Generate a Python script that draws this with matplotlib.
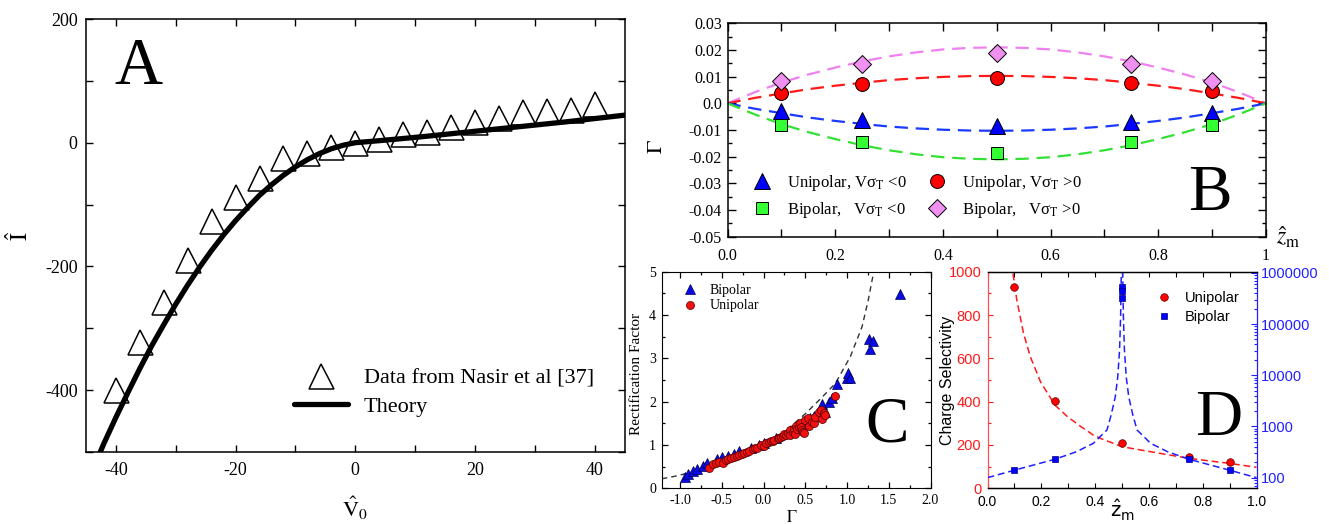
import matplotlib
matplotlib.use("Agg")
import matplotlib.pyplot as plt
from matplotlib.ticker import MultipleLocator, FuncFormatter, LogLocator, NullFormatter

plt.rcParams['font.family'] = 'Liberation Serif'
plt.rcParams['mathtext.fontset'] = 'stix'
plt.rcParams['axes.unicode_minus'] = False

W, H = 1329, 524

# ---------------- panel A: I-V data and theory ----------------
a_v0 = [-40, -36, -32, -28, -24, -20, -16, -12, -8, -4, 0, 4, 8, 12, 16, 20, 24, 28, 32, 36, 40]
a_i = [-400, -322, -257, -190, -127, -87, -57, -24, -16, -7.5, 0, 5.5, 14, 16.6, 26, 34, 40, 49, 51, 53, 62]
a_th_v = [-44, -42, -40, -38, -36, -34, -32, -30, -28, -26, -24, -22, -20, -18, -16, -14, -12,
          -10, -8, -6, -4, -2, 0, 4, 8, 12, 16, 20, 25, 30, 35, 40, 45]
a_th_i = [-531, -486, -444, -404, -365, -328, -294, -261, -230, -201, -174, -149, -126, -105, -85, -68, -52.6,
          -39, -27.4, -17.6, -9.8, -4, 0, 3.3, 6.8, 10.5, 14.5, 18.5, 23.5, 28.5, 33.5, 39, 44.5]

# ---------------- panel B: Gamma vs z_m ----------------
b_z = [0.1, 0.25, 0.5, 0.75, 0.9]
b_uni_neg = [-0.0029, -0.0063, -0.0085, -0.0069, -0.0038]
b_uni_pos = [0.0037, 0.0072, 0.0096, 0.0077, 0.0047]
b_bi_neg = [-0.0081, -0.0146, -0.0188, -0.0146, -0.0081]
b_bi_pos = [0.0084, 0.0147, 0.0190, 0.0147, 0.0084]
b_fit_z = [0, 0.05, 0.1, 0.15, 0.2, 0.25, 0.3, 0.35, 0.4, 0.45, 0.5,
           0.55, 0.6, 0.65, 0.7, 0.75, 0.8, 0.85, 0.9, 0.95, 1.0]
b_fit_pink = [0, 0.0041, 0.0078, 0.0108, 0.0134, 0.0157, 0.0176, 0.0191, 0.0202, 0.0208, 0.0210,
              0.0208, 0.0202, 0.0191, 0.0176, 0.0157, 0.0134, 0.0108, 0.0078, 0.0041, 0]
b_fit_red = [0, 0.0020, 0.0037, 0.0053, 0.0066, 0.0077, 0.0087, 0.0094, 0.0099, 0.0102, 0.0103,
             0.0102, 0.0099, 0.0094, 0.0087, 0.0077, 0.0066, 0.0053, 0.0037, 0.0020, 0]
b_fit_blue = [-v for v in b_fit_red]
b_fit_green = [-v for v in b_fit_pink]

# ---------------- panel C: rectification factor vs Gamma ----------------
c_fit_g = [-1.22, -1.08, -0.84, -0.5, -0.25, 0, 0.25, 0.5, 0.7, 0.86, 1.04, 1.18, 1.255, 1.315]
c_fit_rf = [0.22, 0.27, 0.38, 0.6, 0.78, 1.0, 1.3, 1.72, 2.1, 2.42, 3.04, 3.73, 4.35, 4.95]
c_bi_g = [-0.94, -0.90, -0.84, -0.80, -0.72, -0.68, -0.56, -0.50, -0.43, -0.35, -0.29, -0.15, -0.05, 0.01,
          0.15, 0.34, 0.50, 0.56, 0.60, 0.70, 0.74, 0.78, 0.82, 0.88, 1.00, 1.01, 1.04,
          1.26, 1.28, 1.31, 1.64]
c_bi_rf = [0.25, 0.33, 0.41, 0.44, 0.52, 0.58, 0.67, 0.72, 0.75, 0.80, 0.85, 0.92, 0.99, 1.04,
           1.15, 1.35, 1.52, 1.62, 1.68, 1.95, 1.75, 2.0, 2.08, 2.41, 2.54, 2.67, 2.54,
           3.44, 3.21, 3.41, 4.48]
c_uni_g = [-0.65, -0.60, -0.57, -0.53, -0.49, -0.45, -0.42, -0.39, -0.35, -0.32, -0.29, -0.26, -0.23,
           -0.20, -0.18, -0.13, -0.10, -0.08, -0.03, 0.0, 0.03, 0.06, 0.09, 0.11, 0.13, 0.17, 0.19,
           0.21, 0.23, 0.25, 0.27, 0.29, 0.32, 0.32, 0.35, 0.36, 0.38, 0.39, 0.40, 0.42, 0.44,
           0.45, 0.46, 0.47, 0.48, 0.50, 0.53, 0.55, 0.58, 0.60, 0.62, 0.66, 0.69, 0.70, 0.72,
           0.74, 0.86]
c_uni_rf = [0.46, 0.55, 0.58, 0.60, 0.59, 0.65, 0.68, 0.69, 0.73, 0.74, 0.77, 0.79, 0.81,
            0.83, 0.85, 0.90, 0.92, 0.94, 1.0, 0.98, 1.04, 1.06, 1.10, 1.10, 1.12, 1.15, 1.17,
            1.19, 1.21, 1.25, 1.24, 1.28, 1.35, 1.23, 1.30, 1.38, 1.25, 1.44, 1.37, 1.42, 1.50,
            1.42, 1.35, 1.30, 1.28, 1.58, 1.62, 1.43, 1.54, 1.50, 1.65, 1.77, 1.81, 1.60, 1.73,
            1.70, 2.12]

# ---------------- panel D: charge selectivity vs z_m ----------------
d_z = [0.1, 0.25, 0.5, 0.75, 0.9]
d_uni = [928, 405, 211, 143, 120]
d_bi_z = [0.1, 0.25, 0.5, 0.5, 0.5, 0.75, 0.9]
d_bi = [141, 228, 525000, 450000, 323000, 228, 141]
d_red_fit_z = [0.09, 0.094, 0.109, 0.134, 0.159, 0.197, 0.25, 0.297, 0.347, 0.393, 0.419,
               0.5, 0.606, 0.75, 0.9, 1.0]
d_red_fit = [1090, 1000, 869, 715, 608, 492, 385, 331, 285, 246, 231, 192, 169, 138, 115, 97]
d_blue_left_z = [0, 0.1, 0.25, 0.33, 0.394, 0.419, 0.444, 0.46, 0.475, 0.484, 0.491, 0.495, 0.4975]
d_blue_left = [100, 140, 228, 320, 470, 635, 850, 1700, 3800, 9000, 31000, 150000, 1.1e6]
d_blue_right_z = [0.5025, 0.505, 0.509, 0.516, 0.525, 0.54, 0.556, 0.581, 0.606, 0.67, 0.75, 0.9, 1.0]
d_blue_right = [1.1e6, 150000, 31000, 9000, 3800, 1700, 850, 635, 470, 320, 228, 140, 100]


def box(l, t, r, b):
    return [l / W, 1 - b / H, (r - l) / W, (b - t) / H]


fig = plt.figure(figsize=(W / 100, H / 100), dpi=100)

# ================= A =================
axA = fig.add_axes(box(86, 19, 624.5, 452))
hT, = axA.plot(a_th_v, a_th_i, color='black', lw=3.8, solid_capstyle='round', solid_joinstyle='round', zorder=2)
hD, = axA.plot(a_v0, a_i, ls='none', marker='^', ms=18, mfc='none', mec='black', mew=1.1, zorder=3)
axA.set_xlim(-45, 45)
axA.set_ylim(-500, 200)
axA.xaxis.set_major_locator(MultipleLocator(20))
axA.xaxis.set_minor_locator(MultipleLocator(10))
axA.yaxis.set_major_locator(MultipleLocator(200))
axA.yaxis.set_minor_locator(MultipleLocator(100))
axA.tick_params(which='both', direction='in', top=True, right=True, length=5, width=1)
axA.tick_params(axis='x', labelsize=13, pad=7)
axA.tick_params(axis='y', labelsize=13, pad=6)
for s in axA.spines.values():
    s.set_linewidth(1.1)
axA.set_xlabel(r'$\hat{\mathrm{V}}_0$', fontsize=16)
axA.xaxis.set_label_coords(0.5, -0.099)
axA.set_ylabel(r'$\hat{\mathrm{I}}$', fontsize=17)
axA.yaxis.set_label_coords(-0.098, 0.5)
axA.legend([hD, hT], ['Data from Nasir et al [37]', 'Theory'], loc='upper left',
           bbox_to_anchor=(0.387, 0.194), frameon=False, fontsize=16, handlelength=2.4,
           handletextpad=0.72, borderpad=0, borderaxespad=0, labelspacing=0.35)
axA.text(0.098, 0.85, 'A', transform=axA.transAxes, fontsize=48, ha='center', va='baseline')

# ================= B =================
axB = fig.add_axes(box(727.5, 23.3, 1266, 236.7))
for yy, c in [(b_fit_pink, '#f080f0'), (b_fit_red, '#ff1a1a'),
              (b_fit_blue, '#1a3aff'), (b_fit_green, '#33e033')]:
    axB.plot(b_fit_z, yy, color=c, lw=1.6, dashes=(6, 3.5), zorder=2)
h1, = axB.plot(b_z, b_uni_neg, ls='none', marker='^', ms=11.5, mfc='#0000ff', mec='black', mew=0.7, zorder=3)
h2, = axB.plot(b_z, b_uni_pos, ls='none', marker='o', ms=10, mfc='#ff0000', mec='black', mew=0.7, zorder=3)
h3, = axB.plot(b_z, b_bi_neg, ls='none', marker='s', ms=8.6, mfc='#33ff33', mec='black', mew=0.7, zorder=3)
h4, = axB.plot(b_z, b_bi_pos, ls='none', marker='D', ms=8.8, mfc='#f090f0', mec='black', mew=0.7, zorder=3)
axB.set_xlim(0, 1)
axB.set_ylim(-0.05, 0.03)
axB.xaxis.set_major_locator(MultipleLocator(0.2))
axB.xaxis.set_minor_locator(MultipleLocator(0.1))
axB.yaxis.set_major_locator(MultipleLocator(0.01))
axB.yaxis.set_minor_locator(MultipleLocator(0.005))
axB.xaxis.set_major_formatter(FuncFormatter(lambda v, p: '1' if abs(v - 1) < 1e-9 else '%.1f' % v))
axB.yaxis.set_major_formatter(FuncFormatter(lambda v, p: '0.0' if abs(v) < 1e-9 else '%.2f' % v))
axB.tick_params(which='major', direction='in', top=True, right=True, length=5.5, width=1, labelsize=11.5)
axB.tick_params(which='minor', direction='in', top=True, right=True, length=3, width=1)
axB.tick_params(axis='x', which='minor', length=5.5)
axB.tick_params(axis='x', pad=8)
axB.tick_params(axis='y', pad=4)
for s in axB.spines.values():
    s.set_linewidth(1.1)
axB.set_ylabel(r'$\Gamma$', fontsize=16)
axB.yaxis.set_label_coords(-0.113, 0.42)
legkw = dict(loc='upper left', frameon=False, fontsize=12, handlelength=1.5, handletextpad=0.75,
             borderpad=0, borderaxespad=0, labelspacing=0.45)
leg1 = axB.legend([h1, h3], ['Unipolar, V\u03c3$_\\mathrm{T}$ <0', 'Bipolar,   V\u03c3$_\\mathrm{T}$ <0'],
                  bbox_to_anchor=(0.041, 0.30), **legkw)
axB.add_artist(leg1)
axB.legend([h2, h4], ['Unipolar, V\u03c3$_\\mathrm{T}$ >0', 'Bipolar,   V\u03c3$_\\mathrm{T}$ >0'],
           bbox_to_anchor=(0.366, 0.30), **legkw)
axB.text(0.896, 0.125, 'B', transform=axB.transAxes, fontsize=47, ha='center', va='baseline')
fig.text(1276 / W, 1 - 237 / H, r'$\hat{z}_\mathrm{m}$', fontsize=17, ha='left', va='center')

# ================= C =================
axC = fig.add_axes(box(661.7, 271.7, 930.5, 488.3))
axC.plot(c_fit_g, c_fit_rf, color='#333333', lw=1, dashes=(4, 3), zorder=2)
hb, = axC.plot(c_bi_g, c_bi_rf, ls='none', marker='^', ms=6.5, mfc='#0a0ae6', mec='#000050', mew=0.5, zorder=3)
hu, = axC.plot(c_uni_g, c_uni_rf, ls='none', marker='o', ms=5.8, mfc='#f01010', mec='#500000', mew=0.5, zorder=4)
axC.set_xlim(-1.22, 2.0)
axC.set_ylim(0, 5)
axC.xaxis.set_major_locator(MultipleLocator(0.5))
axC.xaxis.set_minor_locator(MultipleLocator(0.25))
axC.yaxis.set_major_locator(MultipleLocator(1))
axC.yaxis.set_minor_locator(MultipleLocator(0.5))
axC.xaxis.set_major_formatter(FuncFormatter(lambda v, p: '%.1f' % v))
axC.tick_params(which='major', direction='in', top=True, right=True, length=4, width=0.9, labelsize=10, pad=4)
axC.tick_params(which='minor', direction='in', top=True, right=True, length=2.5, width=0.9)
axC.set_xlabel(r'$\Gamma$', fontsize=12)
axC.xaxis.set_label_coords(0.484, -0.1)
axC.set_ylabel('Rectification Factor', fontsize=11)
axC.yaxis.set_label_coords(-0.071, 0.53)
axC.legend([hb, hu], ['Bipolar', 'Unipolar'], loc='upper left', bbox_to_anchor=(0.069, 0.945),
           frameon=False, fontsize=10, handlelength=1.4, handletextpad=0.74, borderpad=0,
           borderaxespad=0, labelspacing=0.2)
axC.text(0.837, 0.218, 'C', transform=axC.transAxes, fontsize=47, ha='center', va='baseline')

# ================= D =================
red = '#ff1a1a'
blue = '#2020ff'
axD = fig.add_axes(box(987.5, 271.7, 1256.5, 488.3))
axD2 = axD.twinx()
axD.plot(d_red_fit_z, d_red_fit, color=red, lw=1.1, dashes=(4.5, 2.5), zorder=2)
hdu, = axD.plot(d_z, d_uni, ls='none', marker='o', ms=5.5, mfc='#ff0000', mec='#600000', mew=0.5, zorder=3)
axD2.plot(d_blue_left_z, d_blue_left, color=blue, lw=1.1, dashes=(4.5, 2.5), zorder=2)
axD2.plot(d_blue_right_z, d_blue_right, color=blue, lw=1.1, dashes=(4.5, 2.5), zorder=2)
hdb, = axD2.plot(d_bi_z, d_bi, ls='none', marker='s', ms=4.8, mfc='#0000ff', mec='#000080', mew=0.5, zorder=3)
axD.set_xlim(0, 1)
axD.set_ylim(0, 1000)
axD2.set_yscale('log')
axD2.set_ylim(62, 1.05e6)
axD.xaxis.set_major_locator(MultipleLocator(0.2))
axD.xaxis.set_minor_locator(MultipleLocator(0.1))
axD.xaxis.set_major_formatter(FuncFormatter(lambda v, p: '%.1f' % v))
axD.yaxis.set_major_locator(MultipleLocator(200))
axD.yaxis.set_minor_locator(MultipleLocator(100))
axD.tick_params(axis='x', which='both', direction='in', top=True, length=3.5, width=0.8,
                labelsize=10, labelfontfamily='Liberation Sans', pad=5)
axD.tick_params(axis='y', which='major', direction='in', length=3.5, width=0.8, colors=red,
                labelsize=10.5, labelfontfamily='Liberation Sans', pad=4.5)
axD.tick_params(axis='y', which='minor', direction='in', length=2.5, width=0.8, colors=red)
axD2.yaxis.set_major_locator(LogLocator(base=10))
axD2.yaxis.set_minor_locator(LogLocator(base=10, subs=(2, 3, 4, 5, 6, 7, 8, 9)))
axD2.yaxis.set_major_formatter(FuncFormatter(lambda v, p: '%d' % round(v)))
axD2.yaxis.set_minor_formatter(NullFormatter())
axD2.tick_params(axis='y', which='major', direction='in', length=4, width=0.8, colors=blue,
                 labelsize=10.5, labelfontfamily='Liberation Sans', pad=3.5)
axD2.tick_params(axis='y', which='minor', direction='in', length=2.5, width=0.8, colors=blue)
axD.spines['right'].set_visible(False)
axD2.spines['left'].set_visible(False)
axD.spines['left'].set_color('#ff5050')
axD2.spines['right'].set_color(blue)
for ax in (axD, axD2):
    for s in ax.spines.values():
        s.set_linewidth(0.9)
axD.set_ylabel('Charge Selectivity', family='Liberation Sans', fontsize=11.5)
axD.yaxis.set_label_coords(-0.121, 0.5)
axD.set_xlabel(r'$\hat{\mathrm{z}}_\mathrm{m}$', math_fontfamily='dejavusans', fontsize=14)
axD.xaxis.set_label_coords(0.5, -0.045)
axD2.legend([hdu, hdb], ['Unipolar', 'Bipolar'], loc='upper left', bbox_to_anchor=(0.618, 0.912),
            frameon=False, prop={'family': 'Liberation Sans', 'size': 10.5}, handlelength=1.4,
            handletextpad=0.74, borderpad=0, borderaxespad=0, labelspacing=0.35)
axD2.text(0.861, 0.246, 'D', transform=axD2.transAxes, fontsize=47, ha='center', va='baseline')

fig.savefig('out.png', dpi=100)
